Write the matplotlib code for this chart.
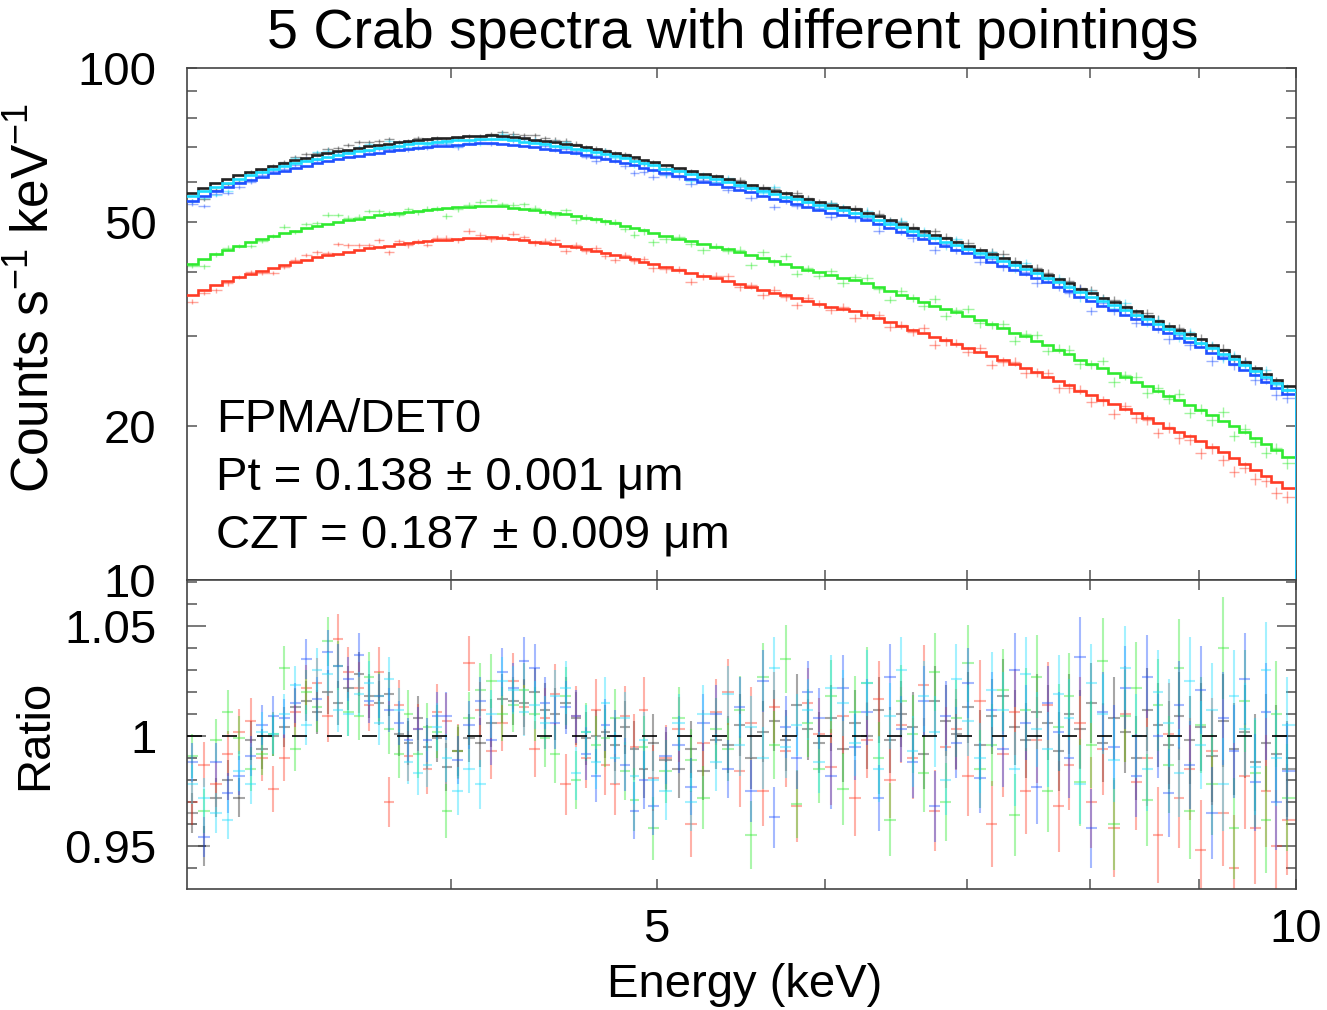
import matplotlib.pyplot as plt
import numpy as np
from matplotlib.ticker import FixedLocator, NullFormatter, FuncFormatter

plt.rcParams['font.family'] = ['Liberation Sans', 'DejaVu Sans']
plt.rcParams['mathtext.fontset'] = 'custom'
plt.rcParams['mathtext.rm'] = 'Liberation Sans'

# bin centres (keV)
energy = [3.02, 3.06, 3.10, 3.14, 3.18, 3.22, 3.26, 3.30, 3.34, 3.38,
          3.42, 3.46, 3.50, 3.54, 3.58, 3.62, 3.66, 3.70, 3.74, 3.78,
          3.82, 3.86, 3.90, 3.94, 3.98, 4.03, 4.08, 4.13, 4.18, 4.23,
          4.28, 4.33, 4.38, 4.43, 4.48, 4.53, 4.58, 4.63, 4.68, 4.73,
          4.78, 4.83, 4.88, 4.93, 4.98, 5.05, 5.12, 5.19, 5.26, 5.33,
          5.40, 5.47, 5.54, 5.61, 5.68, 5.75, 5.82, 5.89, 5.96, 6.04,
          6.12, 6.20, 6.28, 6.36, 6.44, 6.52, 6.60, 6.68, 6.76, 6.84,
          6.92, 7.01, 7.10, 7.19, 7.28, 7.37, 7.46, 7.55, 7.64, 7.73,
          7.82, 7.91, 8.01, 8.11, 8.21, 8.31, 8.41, 8.51, 8.61, 8.71,
          8.81, 8.91, 9.02, 9.13, 9.24, 9.35, 9.46, 9.57, 9.68, 9.79,
          9.90]

# folded model of the brightest pointing (counts s^-1 keV^-1)
model_shape = [57.0, 58.3, 59.5, 60.6, 61.7, 62.7, 63.6, 64.5, 65.3, 66.1,
               66.8, 67.5, 68.1, 68.7, 69.3, 69.8, 70.3, 70.8, 71.2, 71.6,
               72.0, 72.3, 72.6, 72.9, 73.1, 73.4, 73.6, 73.8, 73.9, 73.7,
               73.3, 72.9, 72.5, 72.0, 71.6, 71.1, 70.6, 70.1, 69.5, 68.9,
               68.3, 67.6, 66.9, 66.2, 65.5, 64.6, 63.8, 63.0, 62.2, 61.5,
               60.8, 60.0, 59.2, 58.4, 57.6, 56.9, 56.2, 55.5, 54.8, 54.1,
               53.5, 53.0, 52.2, 51.3, 50.4, 49.6, 48.8, 48.0, 47.2, 46.5,
               45.8, 45.0, 44.2, 43.4, 42.6, 41.8, 41.1, 40.3, 39.5, 38.7,
               38.0, 37.0, 36.3, 35.6, 34.9, 34.2, 33.5, 32.8, 32.1, 31.4,
               30.8, 30.2, 29.5, 28.8, 28.1, 27.4, 26.7, 26.0, 25.3, 24.6,
               23.9]

# 1 sigma fractional errors per bin
frac_err = [0.009, 0.009, 0.009, 0.009, 0.009, 0.009, 0.009, 0.009, 0.009, 0.009,
            0.009, 0.010, 0.010, 0.010, 0.010, 0.010, 0.010, 0.010, 0.010, 0.010,
            0.010, 0.010, 0.010, 0.011, 0.011, 0.011, 0.011, 0.011, 0.011, 0.011,
            0.011, 0.011, 0.011, 0.012, 0.012, 0.012, 0.012, 0.012, 0.012, 0.012,
            0.012, 0.012, 0.013, 0.013, 0.013, 0.013, 0.013, 0.013, 0.013, 0.013,
            0.013, 0.014, 0.014, 0.014, 0.014, 0.014, 0.014, 0.014, 0.014, 0.015,
            0.015, 0.015, 0.015, 0.015, 0.015, 0.015, 0.016, 0.016, 0.016, 0.016,
            0.016, 0.016, 0.016, 0.017, 0.017, 0.017, 0.017, 0.017, 0.017, 0.018,
            0.018, 0.018, 0.018, 0.018, 0.019, 0.019, 0.019, 0.019, 0.019, 0.020,
            0.020, 0.020, 0.020, 0.021, 0.021, 0.021, 0.021, 0.022, 0.022, 0.022,
            0.022]

# data/model ratios for the 5 pointings
ratio_black = [0.965, 0.950, 0.972, 0.980, 0.972, 0.998, 0.994, 1.000, 1.004, 1.013,
               1.016, 1.011, 1.020, 1.015, 1.022, 1.028, 1.018, 1.015, 1.019, 1.001,
               0.997, 1.008, 0.995, 0.999, 0.986, 0.993, 0.999, 0.997, 1.006, 1.017,
               1.016, 1.015, 1.020, 1.012, 1.010, 1.015, 1.008, 0.999, 1.000, 1.002,
               0.996, 1.004, 0.994, 0.985, 0.997, 0.989, 0.985, 0.994, 0.984, 0.998,
               0.996, 1.005, 0.990, 1.002, 1.007, 0.998, 1.014, 1.003, 0.997, 1.008,
               0.994, 1.006, 1.000, 1.012, 0.998, 1.010, 1.004, 0.992, 1.016, 1.007,
               1.001, 1.013, 0.996, 1.009, 1.018, 1.004, 0.998, 1.011, 1.006, 0.993,
               1.010, 1.003, 1.015, 0.997, 1.008, 1.002, 0.990, 1.012, 1.005, 0.996,
               1.009, 0.998, 1.004, 0.991, 1.007, 0.994, 1.002, 0.988, 0.997, 0.992,
               0.985]
ratio_cyan = [0.978, 0.972, 0.965, 0.962, 0.984, 0.978, 1.002, 1.001, 1.010, 1.023,
              1.005, 1.030, 1.028, 1.012, 1.010, 1.019, 1.024, 1.006, 1.026, 1.012,
              0.988, 0.983, 0.987, 1.004, 0.990, 0.975, 0.985, 0.978, 1.010, 1.025,
              1.021, 1.011, 1.014, 1.006, 1.018, 1.022, 0.983, 1.002, 0.988, 1.015,
              0.990, 1.008, 0.982, 0.998, 0.980, 0.975, 1.006, 0.970, 1.010, 0.988,
              1.019, 0.996, 1.004, 0.990, 1.031, 0.995, 1.005, 1.012, 0.988, 1.022,
              1.015, 0.997, 1.024, 0.985, 1.009, 1.030, 0.993, 1.018, 1.002, 0.980,
              1.026, 1.007, 0.990, 1.021, 1.012, 0.985, 1.028, 1.003, 0.994, 1.019,
              1.008, 0.978, 1.024, 1.010, 0.989, 1.031, 1.000, 0.985, 1.020, 1.006,
              0.983, 1.025, 0.996, 1.012, 0.978, 1.018, 1.003, 0.986, 1.030, 0.990,
              1.005]
ratio_blue = [0.988, 0.954, 0.988, 0.974, 0.982, 0.991, 1.005, 1.009, 1.008, 1.015,
              1.035, 1.017, 1.038, 1.032, 1.026, 1.037, 1.016, 1.018, 1.012, 1.006,
              0.998, 1.003, 0.998, 1.009, 1.009, 0.989, 1.005, 1.016, 0.998, 1.029,
              1.022, 1.034, 1.031, 1.015, 1.006, 1.013, 1.009, 0.992, 0.982, 1.005,
              1.000, 0.987, 0.966, 0.980, 0.968, 0.991, 0.996, 0.977, 1.006, 1.010,
              0.985, 1.013, 0.975, 1.025, 0.963, 1.004, 0.990, 1.020, 1.008, 0.982,
              1.022, 0.995, 1.011, 0.972, 1.027, 1.003, 0.988, 1.016, 0.968, 1.009,
              0.997, 1.024, 0.981, 1.012, 0.994, 1.030, 1.006, 0.977, 1.015, 1.002,
              0.990, 1.036, 0.958, 1.011, 0.995, 1.022, 0.982, 1.027, 1.000, 0.974,
              1.014, 0.987, 1.021, 0.965, 1.008, 0.993, 1.026, 0.979, 1.011, 0.970,
              0.984]
ratio_green = [0.991, 0.966, 0.998, 1.011, 0.999, 0.985, 0.992, 1.001, 1.031, 0.994,
               1.020, 1.013, 1.043, 1.032, 1.011, 1.009, 1.027, 1.018, 1.003, 0.992,
               1.010, 0.992, 1.004, 1.002, 0.966, 0.993, 1.008, 1.021, 1.025, 1.010,
               1.014, 1.021, 1.010, 0.999, 0.992, 1.018, 0.980, 1.002, 0.996, 0.999,
               1.008, 0.984, 0.971, 0.995, 0.958, 0.984, 1.008, 0.989, 0.972, 1.003,
               0.994, 1.012, 0.955, 1.027, 0.996, 1.035, 0.969, 1.006, 0.985, 1.018,
               0.976, 1.011, 1.024, 0.990, 0.962, 1.016, 1.001, 0.983, 1.029, 0.970,
               1.008, 1.033, 0.985, 0.996, 1.021, 0.964, 1.012, 1.027, 0.975, 1.004,
               1.018, 0.979, 0.996, 1.034, 0.960, 1.009, 1.022, 0.971, 1.014, 0.987,
               1.031, 0.966, 1.005, 0.978, 1.040, 0.958, 1.016, 0.983, 0.962, 1.010,
               0.972]
ratio_red = [0.970, 0.987, 0.978, 0.992, 1.002, 1.007, 0.990, 0.976, 0.990, 1.011,
             1.022, 1.024, 1.009, 1.044, 1.029, 1.022, 1.014, 1.029, 0.970, 1.014,
             0.991, 1.003, 0.985, 1.011, 1.007, 0.993, 1.033, 1.012, 0.993, 1.006,
             1.025, 1.013, 0.994, 1.008, 1.019, 0.978, 1.009, 0.990, 1.012, 0.987,
             0.978, 1.009, 0.995, 1.012, 0.981, 0.990, 1.003, 0.960, 0.997, 1.011,
             1.020, 0.984, 1.006, 0.975, 1.013, 0.993, 0.968, 1.015, 1.001, 0.986,
             1.009, 0.972, 0.998, 1.017, 0.980, 1.005, 0.990, 1.023, 0.966, 0.995,
             1.003, 0.982, 1.016, 0.960, 0.992, 1.011, 0.975, 0.998, 1.014, 0.968,
             0.987, 1.006, 0.970, 0.994, 0.958, 1.010, 0.979, 0.990, 0.955, 1.001,
             0.972, 0.985, 0.948, 0.993, 0.965, 0.940, 0.982, 0.958, 0.975, 0.950,
             0.962]

ratios = [ratio_black, ratio_red, ratio_green, ratio_blue, ratio_cyan]
norms = [1.0, 0.632, 0.728, 0.965, 0.985]      # model normalisation relative to black
err_scale = [1.0, 1.15, 1.1, 1.0, 1.0]
colors = ['#222222', '#ff3c26', '#30ea30', '#2050ff', '#1cdcff']

e = np.array(energy)
edges = np.concatenate([[3.0], (e[1:] + e[:-1]) / 2, [10.0]])
xerr = [e - edges[:-1], edges[1:] - e]
shape = np.array(model_shape)
ferr = np.array(frac_err)

fig = plt.figure(figsize=(13.27, 10.10), dpi=100)
W, H = 1327, 1010
ax1 = fig.add_axes([187 / W, (H - 580) / H, 1109 / W, 512 / H])
ax2 = fig.add_axes([187 / W, (H - 889) / H, 1109 / W, 309 / H])

for r, n, s, c in zip(ratios, norms, err_scale, colors):
    r = np.array(r)
    model = n * shape
    ax1.stairs(model, edges, color=c, lw=1.9, zorder=3)
    ax1.errorbar(e, model * r, xerr=xerr, yerr=model * ferr * s, fmt='none',
                 ecolor=c, alpha=0.45, elinewidth=1.0, zorder=2)
    ax2.errorbar(e, r, xerr=xerr, yerr=ferr * s, fmt='none',
                 ecolor=c, alpha=0.4, elinewidth=1.5, zorder=2)

ax2.axhline(1.0, color='k', lw=1.2, ls=(0, (9, 12)), zorder=5)

fmt = FuncFormatter(lambda v, p: '%g' % v)
for ax in (ax1, ax2):
    ax.set_xscale('log')
    ax.set_xlim(3.005, 10.0)
    ax.xaxis.set_major_locator(FixedLocator([5, 10]))
    ax.xaxis.set_minor_locator(FixedLocator([4, 6, 7, 8, 9]))
    ax.xaxis.set_major_formatter(fmt)
    ax.xaxis.set_minor_formatter(NullFormatter())
    for sp in ax.spines.values():
        sp.set_color('#444444')
        sp.set_linewidth(1.2)
    ax.tick_params(axis='x', which='both', direction='in', top=True, bottom=True,
                   length=7, width=1.1, color='#555555', labelsize=34, pad=14)
    ax.tick_params(axis='y', which='both', direction='in', left=True, right=True,
                   width=1.1, color='#555555', labelsize=34, pad=22)

ax1.tick_params(axis='x', labelbottom=False)
ax1.set_yscale('log')
ax1.set_ylim(10, 100)
ax1.yaxis.set_major_locator(FixedLocator([10, 20, 50, 100]))
ax1.yaxis.set_minor_locator(FixedLocator([30, 40, 60, 70, 80, 90]))
ax1.yaxis.set_major_formatter(fmt)
ax1.yaxis.set_minor_formatter(NullFormatter())
ax1.tick_params(axis='y', which='both', length=7)

ax2.set_ylim(0.9305, 1.0709)
ax2.yaxis.set_major_locator(FixedLocator([0.95, 1.0, 1.05]))
ax2.yaxis.set_minor_locator(FixedLocator([0.94, 0.96, 0.97, 0.98, 0.99, 1.01,
                                          1.02, 1.03, 1.04, 1.06, 1.07]))
ax2.yaxis.set_major_formatter(fmt)
ax2.yaxis.set_minor_formatter(NullFormatter())
ax2.tick_params(axis='y', which='major', length=14)
ax2.tick_params(axis='y', which='minor', length=7)

# fit results
ax1.text(0.026, 0.289, 'FPMA/DET0', transform=ax1.transAxes, fontsize=34, va='baseline')
ax1.text(0.026, 0.176, 'Pt = 0.138 ± 0.001 μm', transform=ax1.transAxes, fontsize=34, va='baseline')
ax1.text(0.026, 0.0625, 'CZT = 0.187 ± 0.009 μm', transform=ax1.transAxes, fontsize=34, va='baseline')

# labels
fig.text(733 / W, 1 - 48 / H, '5 Crab spectra with different pointings',
         fontsize=40, ha='center', va='baseline')
fig.text(35 / W, 1 - 298 / H, r'Counts s$^{-1}$ keV$^{-1}$', fontsize=37,
         rotation=90, ha='center', va='center')
fig.text(35 / W, 1 - 735 / H, 'Ratio', fontsize=34, rotation=90, ha='center', va='center')
fig.text(745 / W, 1 - 985 / H, 'Energy (keV)', fontsize=34, ha='center', va='center')

fig.savefig('out.png', dpi=100)
